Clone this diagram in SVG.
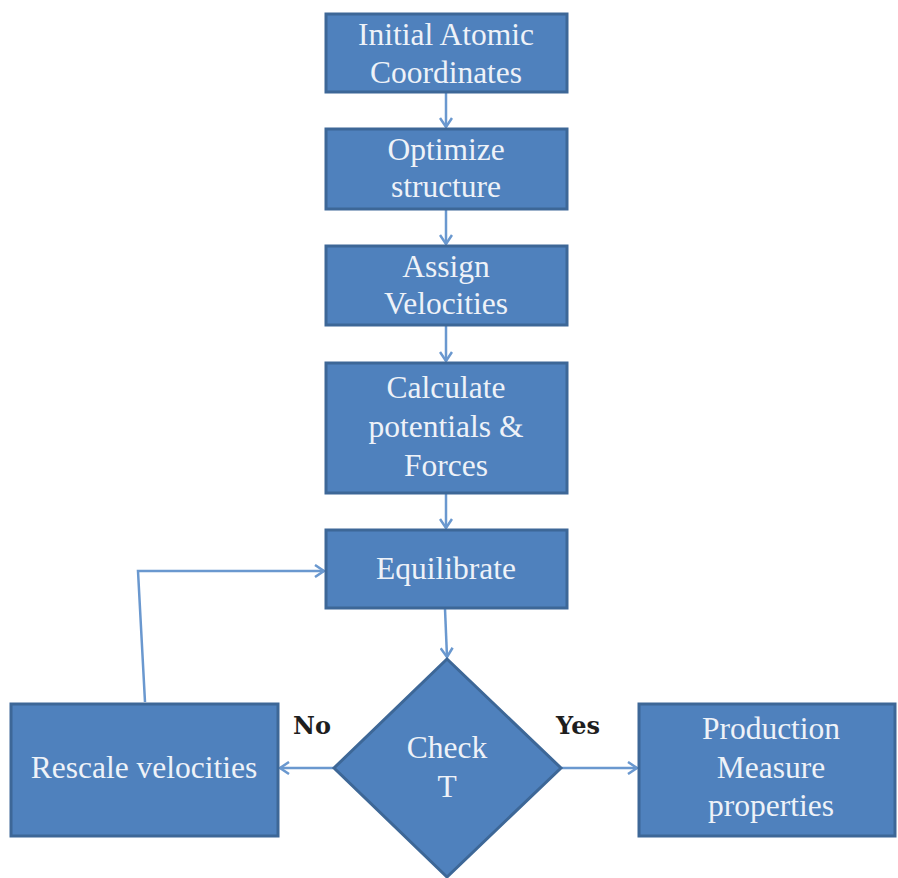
<svg xmlns="http://www.w3.org/2000/svg" width="898" height="878" viewBox="0 0 898 878">
<style>
.box{fill:#4f81bd;stroke:#3d6797;stroke-width:3}
.t{font-family:"Liberation Serif","DejaVu Serif",serif;font-size:31.5px;fill:#eef2f8;text-anchor:middle}
.lbl{font-family:"DejaVu Serif","Liberation Serif",serif;font-size:24px;font-weight:bold;fill:#1e1e1e;text-anchor:middle}
.c{fill:none;stroke:#6a98cf;stroke-width:2.5}
</style>
<defs>
<marker id="ah" markerWidth="14" markerHeight="14" refX="11" refY="7" orient="auto" markerUnits="userSpaceOnUse">
<polyline points="2,1 11,7 2,13" fill="none" stroke="#6a98cf" stroke-width="2.5"/>
</marker>
</defs>
<g id="connectors">
<line class="c" x1="446" y1="93" x2="446" y2="127" marker-end="url(#ah)"/>
<line class="c" x1="446" y1="210" x2="446" y2="244" marker-end="url(#ah)"/>
<line class="c" x1="446" y1="326" x2="446" y2="361" marker-end="url(#ah)"/>
<line class="c" x1="446" y1="494" x2="446" y2="528" marker-end="url(#ah)"/>
<line class="c" x1="445" y1="609" x2="447" y2="657" marker-end="url(#ah)"/>
<line class="c" x1="333" y1="768" x2="280" y2="768" marker-end="url(#ah)"/>
<line class="c" x1="562" y1="768" x2="637" y2="768" marker-end="url(#ah)"/>
<polyline class="c" points="145,702 138,571 324,571" marker-end="url(#ah)"/>
</g>
<g id="n1"><rect class="box" x="326" y="14" width="241" height="78"/>
<text class="t" x="446" y="45">Initial Atomic</text><text class="t" x="446" y="83">Coordinates</text></g>
<g id="n2"><rect class="box" x="326" y="129" width="241" height="80"/>
<text class="t" x="446" y="160">Optimize</text><text class="t" x="446" y="197">structure</text></g>
<g id="n3"><rect class="box" x="326" y="246" width="241" height="79"/>
<text class="t" x="446" y="277">Assign</text><text class="t" x="446" y="314">Velocities</text></g>
<g id="n4"><rect class="box" x="326" y="363" width="241" height="130"/>
<text class="t" x="446" y="398">Calculate</text><text class="t" x="446" y="437">potentials &amp;</text><text class="t" x="446" y="476">Forces</text></g>
<g id="n5"><rect class="box" x="326" y="530" width="241" height="78"/>
<text class="t" x="446" y="579">Equilibrate</text></g>
<g id="n6"><polygon class="box" points="447,659 561,768 447,877 334,768"/>
<text class="t" x="447" y="758">Check</text><text class="t" x="447" y="797">T</text></g>
<g id="n7"><rect class="box" x="11" y="704" width="267" height="132"/>
<text class="t" x="144" y="778">Rescale velocities</text></g>
<g id="n8"><rect class="box" x="639" y="704" width="256" height="132"/>
<text class="t" x="771" y="739">Production</text><text class="t" x="771" y="778">Measure</text><text class="t" x="771" y="816">properties</text></g>
<text class="lbl" x="312" y="734">No</text>
<text class="lbl" x="578" y="734">Yes</text>
</svg>
